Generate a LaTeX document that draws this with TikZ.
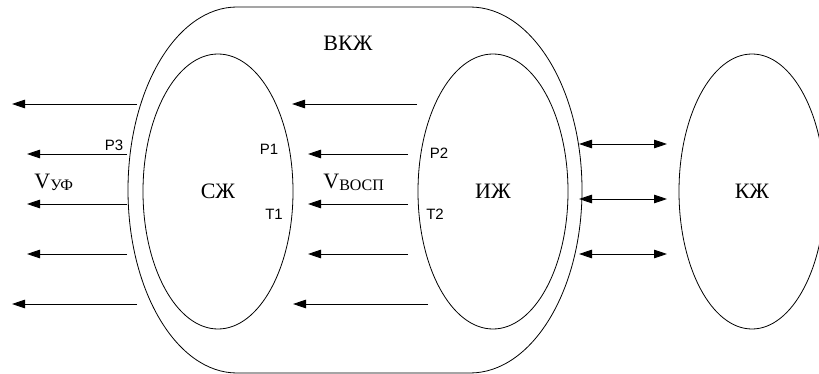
\documentclass[tikz,border=0pt]{standalone}
\usepackage{fontspec}
\setmainfont{Liberation Serif}
\newfontfamily\sansf{Liberation Sans}
\usetikzlibrary{arrows.meta,shapes.geometric}
\begin{document}
\begin{tikzpicture}[x=1pt,y=-1pt,
  line width=0.8pt,
  ell/.style={draw, ellipse, minimum width=150pt, minimum height=275pt, inner sep=0pt, font=\fontsize{22}{22}\selectfont},
  big/.style={font=\fontsize{22}{22}\selectfont, inner sep=0pt},
  small/.style={font=\sansf\fontsize{15}{15}\selectfont, inner sep=0pt},
  arr/.style={-{Triangle[length=13pt,width=8.5pt]}},
  darr/.style={{Triangle[length=13pt,width=8.5pt]}-{Triangle[length=13pt,width=8.5pt]}}
]
\useasboundingbox (0,0) rectangle (819,374);
% outer shape
\draw (237,7) -- (470,7) arc[start angle=-90, end angle=90, x radius=112, y radius=183]
  -- (237,373) arc[start angle=90, end angle=270, x radius=109, y radius=183] -- cycle;
\node[big] (vkzh) at (348,43) {ВКЖ};
% ellipses
\node[ell] (szh) at (218,191.5) {СЖ};
\node[ell] (izh) at (493,191.5) {ИЖ};
\node[ell, minimum width=146pt] (kzh) at (752,191.5) {КЖ};
% left arrows
\coordinate (l1s) at (137,104); \coordinate (l1e) at (12,104);
\coordinate (l2s) at (127,154); \coordinate (l2e) at (27,154);
\coordinate (l3s) at (127,204); \coordinate (l3e) at (27,204);
\coordinate (l4s) at (127,254); \coordinate (l4e) at (27,254);
\coordinate (l5s) at (137,304); \coordinate (l5e) at (12,304);
\draw[arr] (l1s) -- (l1e);
\draw[arr] (l2s) -- (l2e);
\draw[arr] (l3s) -- (l3e);
\draw[arr] (l4s) -- (l4e);
\draw[arr] (l5s) -- (l5e);
% middle arrows
\coordinate (m1s) at (417,104); \coordinate (m1e) at (292,104);
\coordinate (m2s) at (408,154); \coordinate (m2e) at (308,154);
\coordinate (m3s) at (408,204); \coordinate (m3e) at (308,204);
\coordinate (m4s) at (408,254); \coordinate (m4e) at (308,254);
\coordinate (m5s) at (428,304); \coordinate (m5e) at (293,304);
\draw[arr] (m1s) -- (m1e);
\draw[arr] (m2s) -- (m2e);
\draw[arr] (m3s) -- (m3e);
\draw[arr] (m4s) -- (m4e);
\draw[arr] (m5s) -- (m5e);
% double arrows
\coordinate (r1s) at (579,144); \coordinate (r1e) at (667,144);
\coordinate (r2s) at (579,199); \coordinate (r2e) at (667,199);
\coordinate (r3s) at (579,254); \coordinate (r3e) at (667,254);
\draw[darr] (r1s) -- (r1e);
\draw[darr] (r2s) -- (r2e);
\draw[darr] (r3s) -- (r3e);
% labels
\node[small] (p3) at (114,145) {Р3};
\node[small] (p1) at (269,149) {Р1};
\node[small] (t1) at (274,214) {Т1};
\node[small] (p2) at (439,153) {Р2};
\node[small] (t2) at (435,214) {Т2};
\node[big, anchor=west] (vuf) at (34,182) {V\fontsize{16}{16}\selectfont\raisebox{-2pt}{УФ}};
\node[big, anchor=west] (vosp) at (323,182) {V\fontsize{16}{16}\selectfont\raisebox{-2pt}{ВОСП}};
\end{tikzpicture}
\end{document}
